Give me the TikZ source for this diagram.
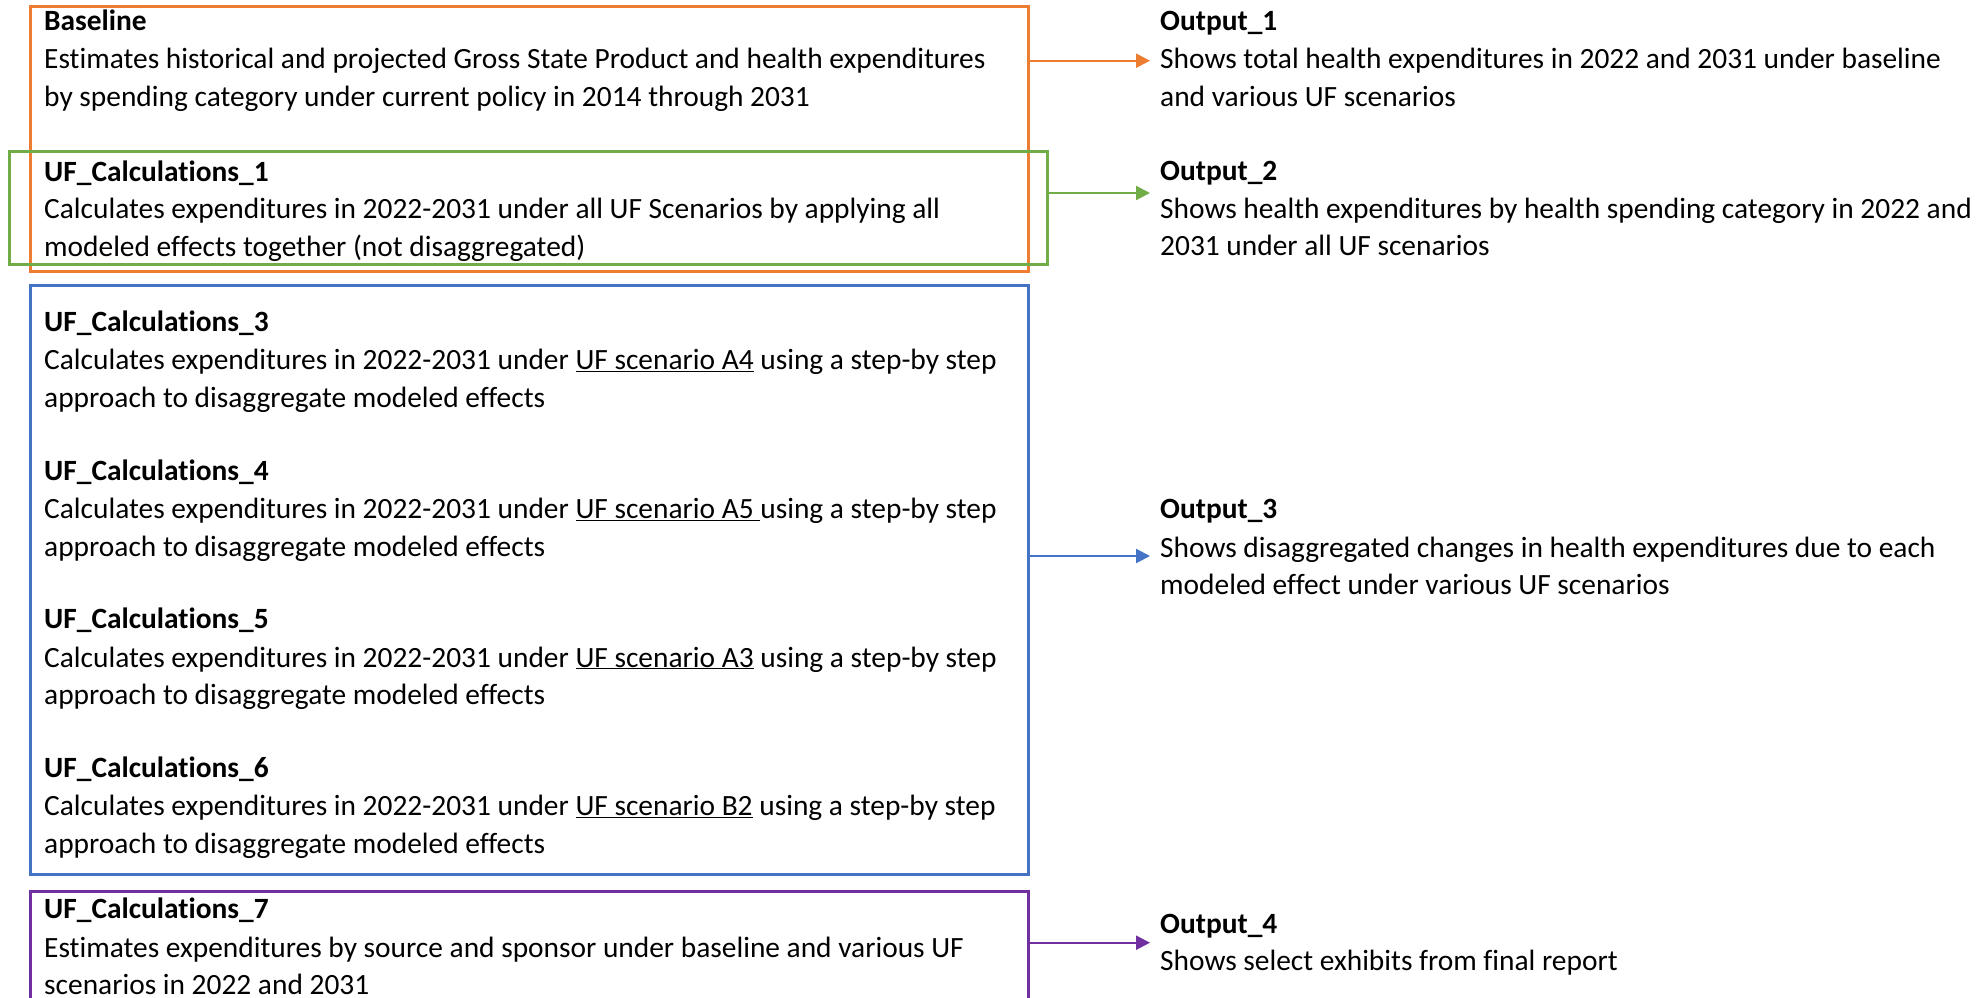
\documentclass[tikz,border=0pt]{standalone}
\usepackage{fontspec}
\setmainfont{Carlito}[Ligatures=NoCommon]
\usetikzlibrary{arrows.meta}
\definecolor{cOrange}{HTML}{ED7D31}
\definecolor{cGreen}{HTML}{70AD47}
\definecolor{cBlue}{HTML}{4472C4}
\definecolor{cPurple}{HTML}{7030A0}
\begin{document}
\begin{tikzpicture}[x=1pt,y=-1pt,
  box/.style={draw=#1, line width=3pt, rectangle, inner sep=0pt, anchor=north west},
  ttl/.style={anchor=base west, inner sep=0pt, font=\fontsize{29.4}{37.7}\selectfont\bfseries},
  dsc/.style={anchor=base west, inner sep=0pt, align=left, font=\fontsize{29.4}{37.7}\selectfont},
  arr/.style={draw=#1, line width=2.2pt, -{Triangle[length=14pt,width=14pt]}}]
\clip (0,0) rectangle (1978,997);
\fill[white] (0,0) rectangle (1978,997);
% boxes
\node[box=cOrange, minimum width=998pt, minimum height=265pt] (bBase) at (29,5) {};
\node[box=cGreen, minimum width=1037.5pt, minimum height=113pt] (bUF1) at (8,150) {};
\node[box=cBlue, minimum width=998pt, minimum height=589pt] (bUF3) at (29,284) {};
\node[box=cPurple, minimum width=998pt, minimum height=130pt] (bUF7) at (29,890) {};
% left texts (description nodes are anchored at the baseline of their last line)
\node[ttl] (t0) at (44,30) {Baseline};
\node[dsc] (d0) at (44,106.4) {Estimates historical and projected Gross State Product and health expenditures\\by spending category under current policy in 2014 through 2031};
\node[ttl] (t1) at (44,181.3) {UF\_Calculations\_1};
\node[dsc] (d1) at (44,256.4) {Calculates expenditures in 2022-2031 under all UF Scenarios by applying all\\modeled effects together (not disaggregated)};
\node[ttl] (t3) at (44,331.3) {UF\_Calculations\_3};
\node[dsc] (d3) at (44,407) {Calculates expenditures in 2022-2031 under \underline{UF scenario A4} using a step-by step\\approach to disaggregate modeled effects};
\node[ttl] (t4) at (44,480.3) {UF\_Calculations\_4};
\node[dsc] (d4) at (44,556.4) {Calculates expenditures in 2022-2031 under \underline{UF scenario A5\ }using a step-by step\\approach to disaggregate modeled effects};
\node[ttl] (t5) at (44,628.7) {UF\_Calculations\_5};
\node[dsc] (d5) at (44,704.7) {Calculates expenditures in 2022-2031 under \underline{UF scenario A3} using a step-by step\\approach to disaggregate modeled effects};
\node[ttl] (t6) at (44,777) {UF\_Calculations\_6};
\node[dsc] (d6) at (44,853) {Calculates expenditures in 2022-2031 under \underline{UF scenario B2} using a step-by step\\approach to disaggregate modeled effects};
\node[ttl] (t7) at (44,918.7) {UF\_Calculations\_7};
\node[dsc] (d7) at (44,994.7) {Estimates expenditures by source and sponsor under baseline and various UF\\scenarios in 2022 and 2031};
% outputs
\node[ttl] (o1) at (1160,30.3) {Output\_1};
\node[dsc] (p1) at (1160,106.4) {Shows total health expenditures in 2022 and 2031 under baseline\\and various UF scenarios};
\node[ttl] (o2) at (1160,180.3) {Output\_2};
\node[dsc] (p2) at (1160,255.7) {Shows health expenditures by health spending category in 2022 and\\2031 under all UF scenarios};
\node[ttl] (o3) at (1160,518.7) {Output\_3};
\node[dsc] (p3) at (1160,594.7) {Shows disaggregated changes in health expenditures due to each\\modeled effect under various UF scenarios};
\node[ttl] (o4) at (1160,933.7) {Output\_4};
\node[dsc] (p4) at (1160,970.3) {Shows select exhibits from final report};
% arrows
\coordinate (in1) at (1150,60.7);
\coordinate (in2) at (1150,193);
\coordinate (in3) at (1150,556);
\coordinate (in4) at (1150,942.7);
\draw[arr=cOrange] (bBase.east |- in1) -- (in1);
\draw[arr=cGreen] (bUF1.east |- in2) -- (in2);
\draw[arr=cBlue] (bUF3.east |- in3) -- (in3);
\draw[arr=cPurple] (bUF7.east |- in4) -- (in4);
\end{tikzpicture}
\end{document}
